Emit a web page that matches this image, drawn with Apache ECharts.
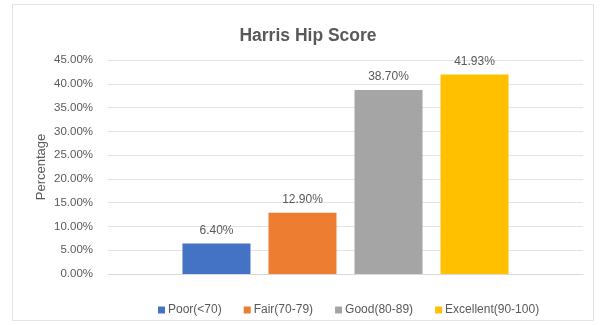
<!DOCTYPE html>
<html><head><meta charset="utf-8">
<script src="https://cdn.jsdelivr.net/npm/echarts@6/dist/echarts.min.js"></script>
<style>html,body{margin:0;padding:0;background:#fff}#c{width:602px;height:325px}</style>
</head><body><div id="c"></div>
<script>
const titleText = 'Harris Hip Score';
const categories = [''];
const seriesNames = ['Poor(<70)', 'Fair(70-79)', 'Good(80-89)', 'Excellent(90-100)'];
const seriesValues = [6.40, 12.90, 38.70, 41.93];
const seriesColors = ['#4472C4', '#ED7D31', '#A5A5A5', '#FFC000'];
const yTicks = [0, 5, 10, 15, 20, 25, 30, 35, 40, 45];

const chart = echarts.init(document.getElementById('c'));
const font = '"Liberation Sans", Arial, sans-serif';
chart.setOption({
  animation: false,
  textStyle: { fontFamily: font },
  graphic: [{ type: 'rect', shape: { x: 12.5, y: 4.5, width: 581, height: 316 }, style: { fill: 'none', stroke: '#e3e3e3', lineWidth: 1 }, silent: true }],
  title: { text: titleText, left: 303, textAlign: 'center', top: 22,
    textStyle: { fontFamily: font, fontSize: 17.5, fontWeight: 'bold', color: '#595959' } },
  legend: { left: 153, top: 299, itemWidth: 7, itemHeight: 7, itemGap: 22, icon: 'rect',
    textStyle: { fontFamily: font, fontSize: 12, color: '#595959', padding: [0, 0, 0, -2] },
    data: seriesNames },
  grid: { left: 108, right: 19, top: 60, bottom: 51 },
  xAxis: { type: 'category', data: categories, axisTick: { show: false },
    axisLine: { lineStyle: { color: '#d9d9d9' } }, axisLabel: { show: false } },
  yAxis: { type: 'value', min: yTicks[0], max: yTicks[yTicks.length - 1], interval: 5,
    name: 'Percentage', nameLocation: 'middle', nameGap: 60, nameMoveOverlap: false,
    nameTextStyle: { fontFamily: font, fontSize: 13, color: '#595959' },
    axisLabel: { formatter: v => v.toFixed(2) + '%', fontFamily: font, fontSize: 11.5, color: '#595959', margin: 15 },
    splitLine: { lineStyle: { color: '#e3e3e3' } }, axisLine: { show: false }, axisTick: { show: false } },
  series: seriesNames.map((n, i) => ({
    name: n, type: 'bar', barWidth: 68, barGap: '26.5%',
    itemStyle: { color: seriesColors[i] },
    label: { show: true, position: 'top', distance: 7, formatter: p => p.value.toFixed(2) + '%',
      fontFamily: font, fontSize: 12, color: '#595959' },
    data: [seriesValues[i]]
  }))
});
</script></body></html>
